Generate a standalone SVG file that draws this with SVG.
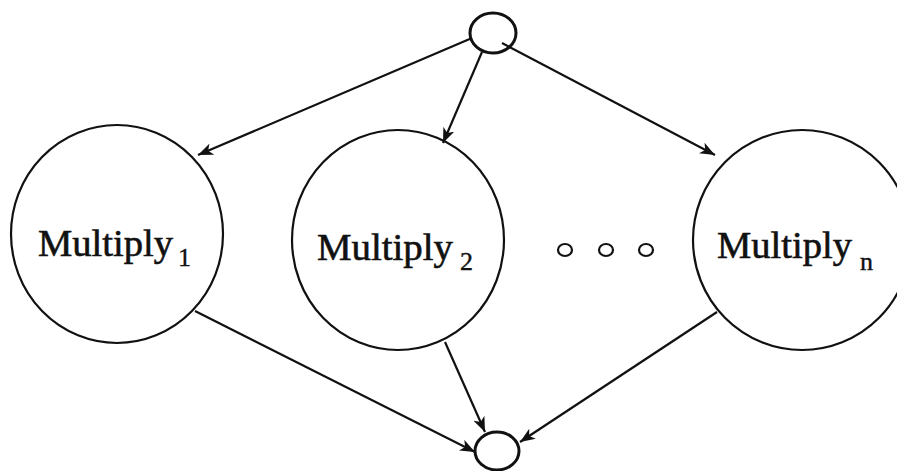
<svg xmlns="http://www.w3.org/2000/svg" width="897" height="471" viewBox="0 0 897 471">
<defs>
<style>
.big{fill:none;stroke:#111;stroke-width:2.2}
.small{fill:none;stroke:#111;stroke-width:3}
.dot{fill:none;stroke:#111;stroke-width:2.2}
.edge{fill:none;stroke:#111;stroke-width:2.2;marker-end:url(#ah)}
.lbl{font-family:"Liberation Serif","DejaVu Serif",serif;font-size:37px;fill:#111;stroke:#111;stroke-width:0.6}
.sub{font-size:26px;stroke-width:0.4}
</style>
<marker id="ah" markerWidth="16" markerHeight="12" refX="15" refY="6" orient="auto" markerUnits="userSpaceOnUse">
<path d="M0,0 L15,6 L0,12 L4,6 Z" fill="#111"/>
</marker>
</defs>
<rect width="897" height="471" fill="#fff"/>
<g id="connectors">
<line class="edge" x1="472" y1="38" x2="198" y2="155"/>
<line class="edge" x1="482" y1="52" x2="443" y2="143"/>
<line class="edge" x1="502" y1="43" x2="715" y2="155"/>
<line class="edge" x1="195" y1="311" x2="475" y2="452"/>
<line class="edge" x1="445" y1="342" x2="485" y2="432"/>
<line class="edge" x1="717" y1="312" x2="520" y2="442"/>
</g>
<g id="source"><ellipse class="small" cx="493" cy="33" rx="23" ry="20"/></g>
<g id="sink"><ellipse class="small" cx="497" cy="451" rx="22" ry="19"/></g>
<g id="multiply1">
<ellipse class="big" cx="117" cy="234" rx="106" ry="109"/>
<text class="lbl" x="38" y="256" textLength="135" lengthAdjust="spacingAndGlyphs">Multiply</text>
<text class="lbl sub" x="178" y="266">1</text>
</g>
<g id="multiply2">
<ellipse class="big" cx="398" cy="240" rx="106" ry="110"/>
<text class="lbl" x="317" y="260" textLength="136" lengthAdjust="spacingAndGlyphs">Multiply</text>
<text class="lbl sub" x="460" y="270">2</text>
</g>
<g id="ellipsis">
<ellipse class="dot" cx="565" cy="250" rx="7" ry="6"/>
<ellipse class="dot" cx="606" cy="250" rx="7" ry="6"/>
<ellipse class="dot" cx="646" cy="250" rx="7" ry="6"/>
</g>
<g id="multiplyn">
<ellipse class="big" cx="802" cy="240" rx="109" ry="110"/>
<text class="lbl" x="717" y="258" textLength="135" lengthAdjust="spacingAndGlyphs">Multiply</text>
<text class="lbl sub" x="860" y="270">n</text>
</g>
</svg>
